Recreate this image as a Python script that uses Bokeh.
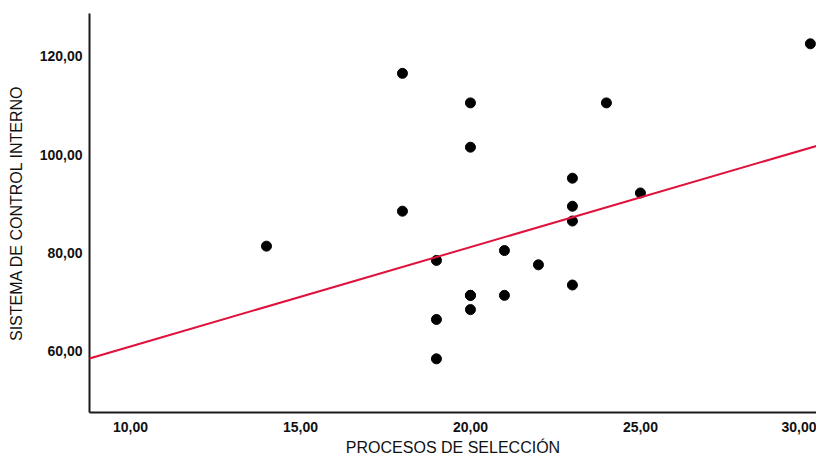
from bokeh.plotting import figure
from bokeh.models import Range1d, Slope, FixedTicker
from bokeh.embed import file_html
from bokeh.resources import INLINE

# Data
procesos = [14, 18, 18, 19, 19, 19, 20, 20, 20, 20, 20, 21, 21, 22, 23, 23, 23, 23, 24, 25, 30]
control = [81.4, 116.5, 88.5, 78.5, 66.5, 58.5, 110.5, 101.5, 71.4, 68.5, 71.4, 80.5, 71.4, 77.6,
           95.2, 89.5, 86.5, 73.5, 110.5, 92.2, 122.5]

fit_intercept = 40.82
fit_slope = 2.019

x_ticks = [10, 15, 20, 25, 30]
x_tick_labels = ["10,00", "15,00", "20,00", "25,00", "30,00"]
y_ticks = [60, 80, 100, 120]
y_tick_labels = ["60,00", "80,00", "100,00", "120,00"]

x_label = "PROCESOS DE SELECCIÓN"
y_label = "SISTEMA DE CONTROL INTERNO"

p = figure(width=816, height=459, output_backend="svg", toolbar_location=None,
           x_range=Range1d(8.794, 30.18), y_range=Range1d(47.6, 128.66),
           min_border_left=89, min_border_right=0, min_border_top=13, min_border_bottom=47)
p.outline_line_color = None
p.xgrid.visible = False
p.ygrid.visible = False
p.background_fill_color = "white"
p.border_fill_color = "white"

p.add_layout(Slope(gradient=fit_slope, y_intercept=fit_intercept,
                   line_color="#E0123C", line_width=2))
p.scatter(procesos, control, size=10, color="black")

for ax, ticks, labels in ((p.xaxis[0], x_ticks, x_tick_labels), (p.yaxis[0], y_ticks, y_tick_labels)):
    ax.ticker = FixedTicker(ticks=ticks)
    ax.major_label_overrides = {t: l for t, l in zip(ticks, labels)}
    ax.major_tick_line_color = None
    ax.minor_tick_line_color = None
    ax.axis_line_color = "#1a1a1a"
    ax.axis_line_width = 2
    ax.major_label_text_font = "Liberation Sans"
    ax.major_label_text_font_style = "bold"
    ax.major_label_text_font_size = "14px"
    ax.major_label_text_color = "#111111"
    ax.axis_label_text_font = "Liberation Sans"
    ax.axis_label_text_font_style = "normal"
    ax.axis_label_text_font_size = "16px"
    ax.axis_label_text_color = "#111111"

p.xaxis.axis_label = x_label
p.yaxis.axis_label = y_label
p.xaxis.major_label_standoff = 3
p.yaxis.major_label_standoff = 1
p.xaxis.axis_label_standoff = 4
p.yaxis.axis_label_standoff = 12

open("out.html", "w").write(file_html(p, INLINE))
